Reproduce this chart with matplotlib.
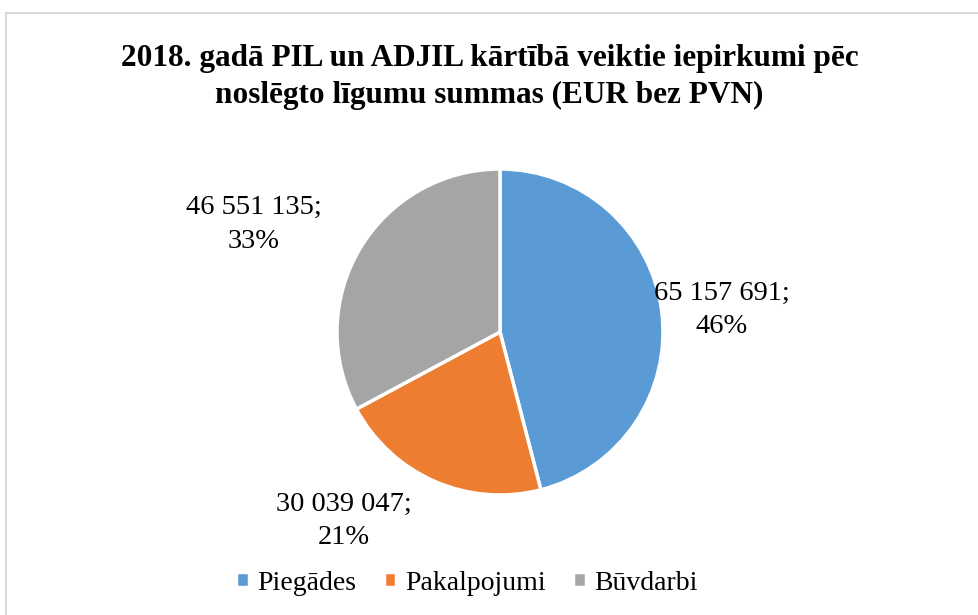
import matplotlib
matplotlib.use("Agg")
import matplotlib.pyplot as plt
from matplotlib.patches import Rectangle

categories = ["Piegādes", "Pakalpojumi", "Būvdarbi"]
values = [65157691, 30039047, 46551135]
value_labels = ["65 157 691", "30 039 047", "46 551 135"]
colors = ["#5B9BD5", "#ED7D31", "#A5A5A5"]
title = "2018. gadā PIL un ADJIL kārtībā veiktie iepirkumi pēc\nnoslēgto līgumu summas (EUR bez PVN)"

plt.rcParams['font.family'] = ['Liberation Serif', 'DejaVu Serif']

W, H = 979, 615
fig = plt.figure(figsize=(W / 100, H / 100), dpi=100)

# border
fig.patches.append(Rectangle((6 / W, -0.05), 1.1, 1 - 13 / H + 0.05, transform=fig.transFigure,
                             fill=False, edgecolor="#D9D9D9", linewidth=1.5))

cx, cy, r = 500, 332, 163
ax = fig.add_axes([(cx - r) / W, (H - cy - r) / H, 2 * r / W, 2 * r / H])
wedges, _ = ax.pie(values, colors=colors, startangle=90, counterclock=False,
                   radius=1, wedgeprops=dict(edgecolor="white", linewidth=2.5))
ax.set_xlim(-1, 1)
ax.set_ylim(-1, 1)
ax.set_aspect("equal")
ax.axis("off")

total = sum(values)
label_pos = [(1.36, 0.135), (-0.96, -1.16), (-1.51, 0.66)]
for v, vl, (x, y) in zip(values, value_labels, label_pos):
    pct = round(100 * v / total)
    ax.text(x, y, f"{vl};\n{pct}%", ha="center", va="center", fontsize=20.5,
            multialignment="center", linespacing=1.45, clip_on=False)

fig.text(0.5, 1 - 77 / H, title, ha="center", va="center", fontsize=22.5,
         fontweight="bold", linespacing=1.35)

fig.legend(wedges, categories, loc="center", bbox_to_anchor=(467 / W, 1 - 583 / H),
           ncol=3, frameon=False, fontsize=20, handlelength=0.45, handleheight=0.45,
           handletextpad=0.3, columnspacing=1.0)

fig.savefig("out.png", dpi=100)
